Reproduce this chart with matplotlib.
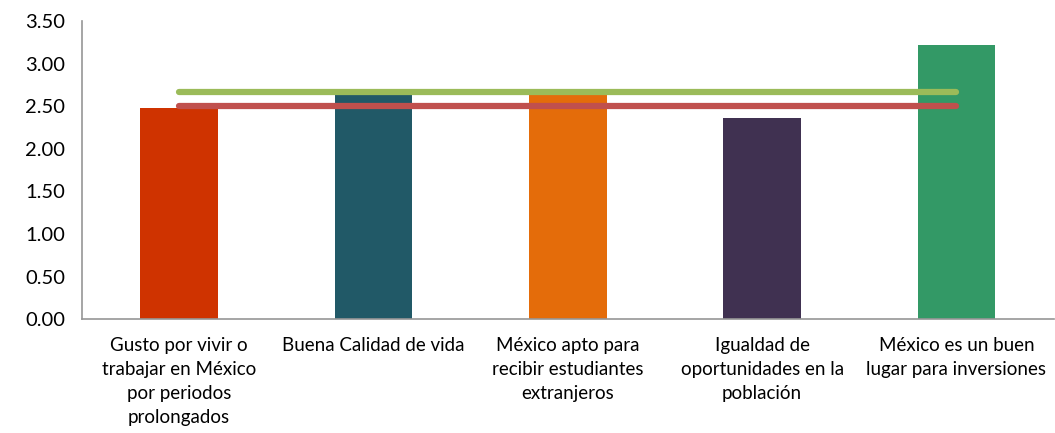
import numpy as np
import matplotlib.pyplot as plt

categories = [
    "Gusto por vivir o\ntrabajar en México\npor periodos\nprolongados",
    "Buena Calidad de vida",
    "México apto para\nrecibir estudiantes\nextranjeros",
    "Igualdad de\noportunidades en la\npoblación",
    "México es un buen\nlugar para inversiones",
]
values = [2.48, 2.64, 2.64, 2.36, 3.22]
line_green = [2.67, 2.67, 2.67, 2.67, 2.67]
line_red = [2.50, 2.50, 2.50, 2.50, 2.50]
bar_colors = ["#CF3300", "#215967", "#E46C0A", "#403151", "#339966"]

plt.rcParams['font.family'] = ['Lato', 'DejaVu Sans']

fig = plt.figure(figsize=(10.55, 4.33), dpi=100)
ax = fig.add_axes([0.0777, 0.263, 0.921, 0.6885])

x = np.arange(len(categories))
ax.bar(x, values, width=0.4, color=bar_colors, zorder=2)
ax.plot(x, line_green, color="#9BBB59", linewidth=4.5, solid_capstyle="round", zorder=3)
ax.plot(x, line_red, color="#C0504D", linewidth=4.5, solid_capstyle="round", zorder=3)

ax.set_xlim(-0.5, len(categories) - 0.5)
ax.set_ylim(0, 3.5)
ax.set_yticks(np.arange(0, 3.51, 0.5))
ax.set_yticklabels([f"{v:.2f}" for v in np.arange(0, 3.51, 0.5)], fontsize=14.5)
ax.set_xticks(x)
ax.set_xticklabels(categories, fontsize=13.5, linespacing=1.5, va="top")
ax.tick_params(axis="both", length=0)
ax.tick_params(axis="x", pad=13)
ax.tick_params(axis="y", pad=12)

for s in ["top", "right"]:
    ax.spines[s].set_visible(False)
for s in ["left", "bottom"]:
    ax.spines[s].set_color("#969696")
    ax.spines[s].set_linewidth(1.2)

fig.savefig("out.png", dpi=100)
